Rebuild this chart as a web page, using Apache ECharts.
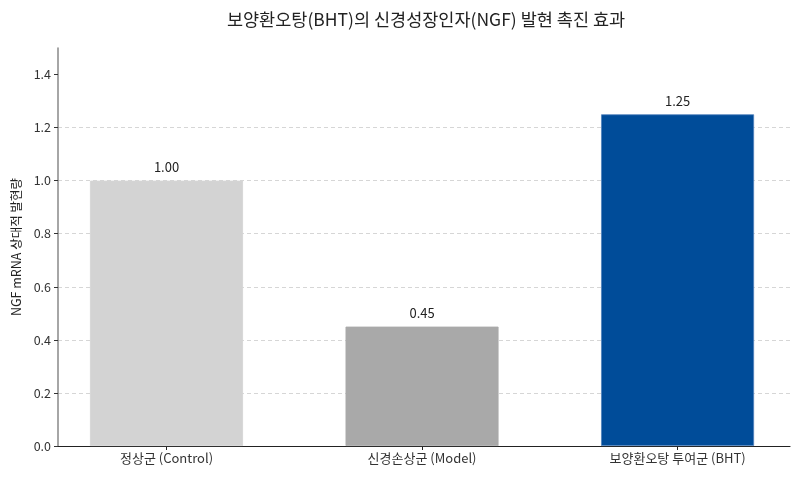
<!DOCTYPE html>
<html>
<head>
<meta charset="utf-8">
<script src="https://cdn.jsdelivr.net/npm/echarts@6/dist/echarts.min.js"></script>
<style>
  html, body { margin: 0; padding: 0; background: #fff; }
  #chart { width: 800px; height: 480px; }
</style>
</head>
<body>
<div id="chart"></div>
<script>
const categories = ["정상군 (Control)", "신경손상군 (Model)", "보양환오탕 투여군 (BHT)"];
const values = [1.0, 0.45, 1.25];
const barColors = ["#d3d3d3", "#a9a9a9", "#004c99"];
const yTicks = [0, 0.2, 0.4, 0.6, 0.8, 1.0, 1.2, 1.4];
const xTicks = [0, 1, 2];

const font = "'Noto Sans CJK KR', 'Noto Sans', sans-serif";
const chart = echarts.init(document.getElementById("chart"));

chart.setOption({
  animation: false,
  textStyle: { fontFamily: font },
  title: {
    text: "보양환오탕(BHT)의 신경성장인자(NGF) 발현 촉진 효과",
    left: 421,
    textAlign: "center",
    top: 6,
    textStyle: { fontSize: 17.5, fontWeight: "normal", color: "#222", fontFamily: font },
  },
  grid: { left: 58, right: 10, top: 48, bottom: 34, outerBoundsMode: "none", containLabel: false },
  xAxis: {
    type: "value",
    min: -0.4247,
    max: 2.44,
    splitLine: { show: false },
    axisLine: { show: true, onZero: false, lineStyle: { color: "#222", width: 1.2 } },
    axisTick: { show: true, customValues: xTicks, length: 4, lineStyle: { color: "#222" } },
    axisLabel: {
      customValues: xTicks,
      formatter: (v) => categories[Math.round(v)] || "",
      color: "#333",
      fontSize: 13,
      margin: 6,
    },
  },
  yAxis: {
    type: "value",
    min: 0,
    max: 1.5,
    name: "NGF mRNA 상대적 발현량",
    nameLocation: "middle",
    nameGap: 35,
    nameTextStyle: { fontSize: 12.5, color: "#222" },
    axisLine: { show: true, onZero: false, lineStyle: { color: "#888", width: 1.5 } },
    axisTick: { show: true, customValues: yTicks, length: 4, lineStyle: { color: "#333" } },
    axisLabel: {
      customValues: yTicks,
      formatter: (v) => v.toFixed(1),
      color: "#333",
      fontSize: 12.5,
      margin: 7,
    },
    splitLine: {
      show: true,
      showMaxLine: false,
      lineStyle: { color: "#cccccc", type: [4, 3], width: 0.8 },
    },
  },
  series: [
    {
      type: "bar",
      barWidth: 153,
      data: values.map((v, i) => ({
        value: [i, v],
        itemStyle: { color: barColors[i], borderColor: i === 2 ? "#4f82bd" : barColors[i], borderWidth: 0.8 },
      })),
      label: {
        show: true,
        position: "top",
        distance: 7,
        formatter: (p) => p.value[1].toFixed(2),
        color: "#222",
        fontSize: 13,
      },
    },
  ],
});
</script>
</body>
</html>
